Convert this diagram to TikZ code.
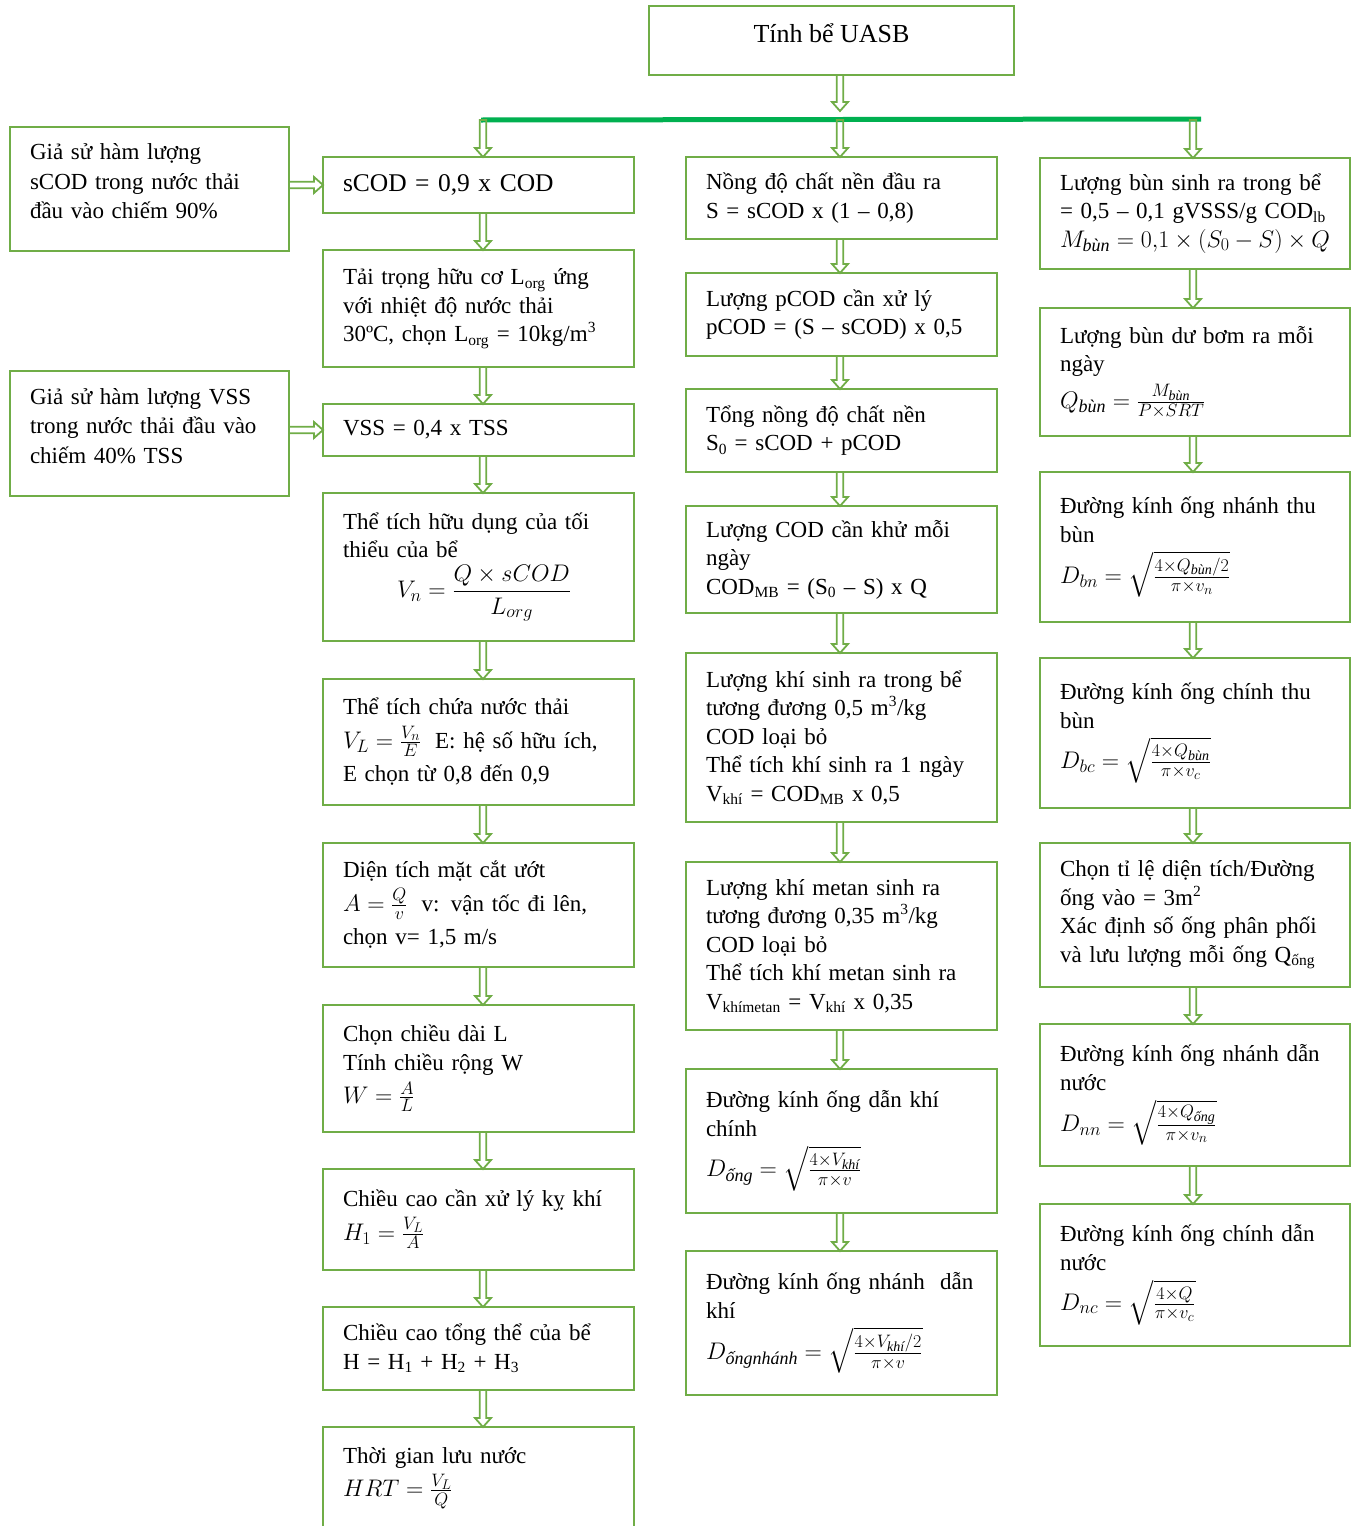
\documentclass[tikz,border=0pt]{standalone}
\usepackage{fix-cm}
\usepackage{amsmath}
\usepackage{fontspec}
\setmainfont{Liberation Serif}
\usetikzlibrary{calc}
\DeclareMathSizes{23}{24}{18}{14}
\definecolor{boxgreen}{HTML}{70AD47}
\definecolor{linegreen}{HTML}{00B050}
\newcommand{\vi}[1]{\text{\itshape #1}}
\newcommand{\tsub}[1]{\textsubscript{\fontsize{15.5}{16}\selectfont #1}}
\newcommand{\tsup}[1]{\textsuperscript{\fontsize{15.5}{16}\selectfont #1}}
\begin{document}
\begin{tikzpicture}[x=1pt,y=-1pt,
  box/.style={draw=boxgreen, line width=2.6pt, anchor=north west, align=left,
    inner xsep=20pt, inner ysep=0pt, outer sep=0pt,
    font=\fontsize{23}{28.5}\selectfont},
  cA/.style={box, text width=239pt, font=\fontsize{23}{29.5}\selectfont},
  cB/.style={box, text width=271pt},
  cC/.style={box, text width=270pt},
  vblk/.style={draw=boxgreen, line width=1.8pt, line join=miter,
    to path={let \p1=(\tikztostart), \p2=(\tikztotarget) in
      (\x1-3.2pt,\y1) -- (\x1-3.2pt,\y2+9pt) -- (\x1-8pt,\y2+9pt) -- (\x1,\y2)
      -- (\x1+8pt,\y2+9pt) -- (\x1+3.2pt,\y2+9pt) -- (\x1+3.2pt,\y1) -- cycle}},
  hblk/.style={draw=boxgreen, line width=1.8pt, line join=miter,
    to path={let \p1=(\tikztostart), \p2=(\tikztotarget) in
      (\x1,\y1+3.2pt) -- (\x2-9pt,\y1+3.2pt) -- (\x2-9pt,\y1+8pt) -- (\x2,\y1)
      -- (\x2-9pt,\y1-8pt) -- (\x2-9pt,\y1-3.2pt) -- (\x1,\y1-3.2pt) -- cycle}},
  gline/.style={draw=linegreen, line width=5pt}]

\path[fill=white, use as bounding box] (0,0) rectangle (1360,1526);

% title
\node[box, align=center, minimum width=365pt, minimum height=69pt,
  font=\fontsize{26}{30}\selectfont] (ti) at (649,6) {\raisebox{15pt}{Tính bể UASB}};

% column 1
\node[cA, minimum height=124pt] (g1) at (10,127)
  {Giả sử hàm lượng\\sCOD trong nước thải\\đầu vào chiếm 90\%\\[-14pt]\mbox{}};
\node[cA, minimum height=125pt] (g2) at (10,371)
  {Giả sử hàm lượng VSS\\trong nước thải đầu vào\\chiếm 40\% TSS\\[-14pt]\mbox{}};

% column 2
\node[cB, minimum height=56pt, font=\fontsize{25.5}{30}\selectfont] (sc) at (323,157)
  {sCOD = 0,9 x COD};
\node[cB, minimum height=117pt] (tt) at (323,250)
  {Tải trọng hữu cơ L\tsub{org} ứng\\với nhiệt độ nước thải\\30ºC, chọn L\tsub{org} = 10kg/m\tsup{3}};
\node[cB, minimum height=52pt] (vs) at (323,404)
  {VSS = 0,4 x TSS};
\node[cB, minimum height=148pt] (vn) at (323,493)
  {Thể tích hữu dụng của tối\\thiểu của bể\\[6pt]\hspace*{54pt}$V_n=\dfrac{Q\times sCOD}{L_{org}}$};
\node[cB, minimum height=126pt] (vl) at (323,679)
  {Thể tích chứa nước thải\\[5pt]$V_L=\frac{V_n}{E}$\hspace{14pt}E: hệ số hữu ích,\\[5pt]E chọn từ 0,8 đến 0,9};
\node[cB, minimum height=124pt] (dt) at (323,843)
  {Diện tích mặt cắt ướt\\[5pt]$A=\frac{Q}{v}$\hspace{14pt}v: vận tốc đi lên,\\[5pt]chọn v= 1,5 m/s};
\node[cB, minimum height=127pt] (cd) at (323,1005)
  {Chọn chiều dài L\\Tính chiều rộng W\\[5pt]$W=\frac{A}{L}$};
\node[cB, minimum height=101pt] (ho) at (323,1169)
  {Chiều cao cần xử lý kỵ khí\\[5pt]$H_1=\frac{V_L}{A}$};
\node[cB, minimum height=83pt] (ht) at (323,1307)
  {Chiều cao tổng thể của bể\\H = H\tsub{1} + H\tsub{2} + H\tsub{3}};
\node[cB, minimum height=102pt] (hr) at (323,1427)
  {Thời gian lưu nước\\[5pt]$HRT=\frac{V_L}{Q}$};

% column 3
\node[cB, minimum height=82pt] (n1) at (686,157)
  {Nồng độ chất nền đầu ra\\S = sCOD x (1 – 0,8)};
\node[cB, minimum height=83pt] (n2) at (686,273)
  {Lượng pCOD cần xử lý\\pCOD = (S – sCOD) x 0,5};
\node[cB, minimum height=83pt] (n3) at (686,389)
  {Tổng nồng độ chất nền\\S\tsub{0} = sCOD + pCOD};
\node[cB, minimum height=107pt] (n4) at (686,506)
  {Lượng COD cần khử mỗi\\ngày\\COD\tsub{MB} = (S\tsub{0} – S) x Q};
\node[cB, minimum height=169pt] (n5) at (686,653)
  {Lượng khí sinh ra trong bể\\tương đương 0,5 m\tsup{3}/kg\\COD loại bỏ\\Thể tích khí sinh ra 1 ngày\\V\tsub{khí} = COD\tsub{MB} x 0,5};
\node[cB, minimum height=168pt] (n6) at (686,862)
  {Lượng khí metan sinh ra\\tương đương 0,35 m\tsup{3}/kg\\COD loại bỏ\\Thể tích khí metan sinh ra\\V\tsub{khímetan} = V\tsub{khí} x 0,35};
\node[cB, minimum height=144pt] (n7) at (686,1069)
  {Đường kính ống dẫn khí\\chính\\[8pt]$D_{\vi{ống}}=\sqrt{\frac{4\times V_{\vi{khí}}}{\pi\times v}}$};
\node[cB, minimum height=144pt] (n8) at (686,1251)
  {Đường kính ống nhánh\ \ dẫn\\khí\\[8pt]$D_{\vi{ốngnhánh}}=\sqrt{\frac{4\times V_{\vi{khí}}/2\rule[-4pt]{0pt}{0pt}}{\pi\times v}}$};

% column 4
\node[cC, minimum height=111pt] (b1) at (1040,158)
  {Lượng bùn sinh ra trong bể\\= 0,5 – 0,1 gVSSS/g COD\tsub{lb}\\$M_{\vi{bùn}}=0{,}1\times(S_0-S)\times Q$};
\node[cC, minimum height=128pt] (b2) at (1040,308)
  {Lượng bùn dư bơm ra mỗi\\ngày\\[8pt]$Q_{\vi{bùn}}=\frac{M_{\vi{bùn}}}{P\times SRT}$};
\node[cC, minimum height=150pt] (b3) at (1040,472)
  {Đường kính ống nhánh thu\\bùn\\[8pt]$D_{bn}=\sqrt{\frac{4\times Q_{\vi{bùn}}/2}{\pi\times v_n}}$};
\node[cC, minimum height=150pt] (b4) at (1040,658)
  {Đường kính ống chính thu\\bùn\\[8pt]$D_{bc}=\sqrt{\frac{4\times Q_{\vi{bùn}}}{\pi\times v_c}}$};
\node[cC, minimum height=144pt] (b5) at (1040,843)
  {Chọn tỉ lệ diện tích/Đường\\ống vào = 3m\tsup{2}\\Xác định số ống phân phối\\và lưu lượng mỗi ống Q\tsub{ống}};
\node[cC, minimum height=142pt] (b6) at (1040,1024)
  {Đường kính ống nhánh dẫn\\nước\\[8pt]$D_{nn}=\sqrt{\frac{4\times Q_{\vi{ống}}}{\pi\times v_n}}$};
\node[cC, minimum height=142pt] (b7) at (1040,1204)
  {Đường kính ống chính dẫn\\nước\\[8pt]$D_{nc}=\sqrt{\frac{4\times Q}{\pi\times v_c}}$};

% junction line
\coordinate (jl) at (481,120);
\coordinate (jr) at (1201,119);
\coordinate (j2) at (483,120);
\coordinate (j3) at (840,120);
\coordinate (j4) at (1193,120);
\coordinate (jt) at (840,111);
\draw[gline] (jl) -- (jr);

\draw[vblk] (ti.south -| j3) to (jt);
\draw[vblk] (j2) to (j2 |- sc.north);
\draw[vblk] (j3) to (j3 |- n1.north);
\draw[vblk] (j4) to (j4 |- b1.north);

% horizontal arrows
\draw[hblk] (g1.east |- sc.west) to (sc.west);
\draw[hblk] (g2.east |- vs.west) to (vs.west);

% column 2 chain
\foreach \a/\b in {sc/tt, tt/vs, vs/vn, vn/vl, vl/dt, dt/cd, cd/ho, ho/ht, ht/hr}
  \draw[vblk] (\a.south -| j2) to (\b.north -| j2);
% column 3 chain
\foreach \a/\b in {n1/n2, n2/n3, n3/n4, n4/n5, n5/n6, n6/n7, n7/n8}
  \draw[vblk] (\a.south -| j3) to (\b.north -| j3);
% column 4 chain
\foreach \a/\b in {b1/b2, b2/b3, b3/b4, b4/b5, b5/b6, b6/b7}
  \draw[vblk] (\a.south -| j4) to (\b.north -| j4);
\end{tikzpicture}
\end{document}
